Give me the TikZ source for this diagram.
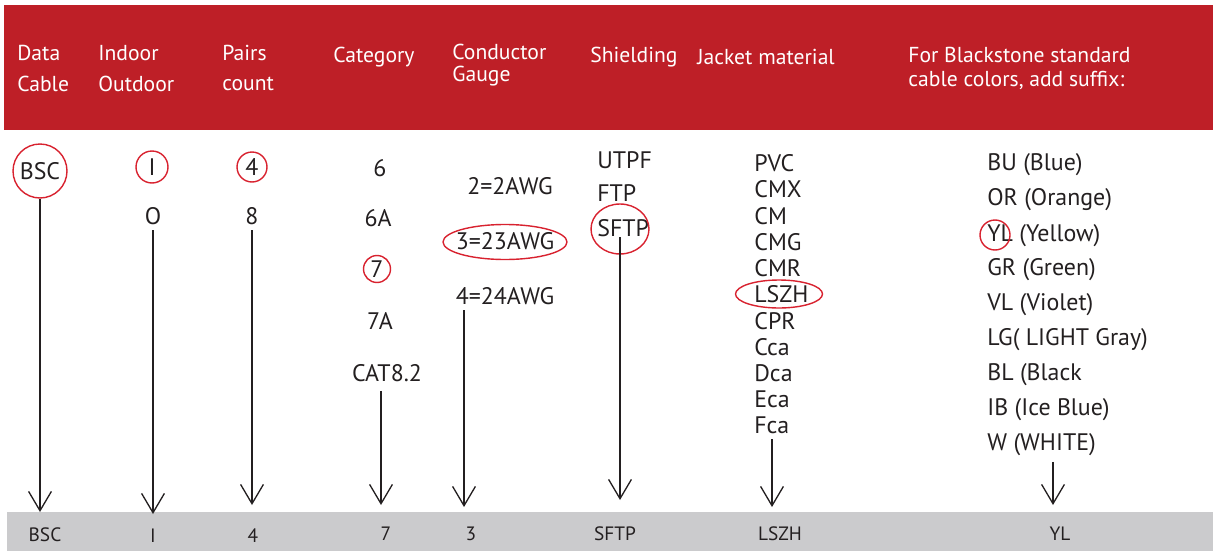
\documentclass[tikz,border=0pt]{standalone}
\usepackage{fontspec}
\setmainfont{PT Sans}
\usetikzlibrary{arrows.meta}
\definecolor{bandred}{HTML}{BE1F27}
\definecolor{bandgrey}{HTML}{CBCBCD}
\definecolor{ringred}{HTML}{D8222F}
\definecolor{ink}{HTML}{231F20}

\begin{document}
\begin{tikzpicture}[x=.02cm, y=-.02cm,
    head/.style={anchor=west, inner sep=0, text=white, font=\fontsize{12.3}{14}\selectfont},
    item/.style={anchor=west, inner sep=0, text=ink, font=\fontsize{13.6}{15}\selectfont},
    mid/.style={item, anchor=center},
    code/.style={inner sep=0, text=ink, font=\fontsize{11}{13}\selectfont},
    ring/.style={draw=ringred, line width=.8pt},
    arr/.style={draw=ink, line width=.75pt, shorten <=3pt,
      -{Straight Barb[length=11pt, width=13pt, line width=.75pt]}}]
  \useasboundingbox (0,0) rectangle (1213,551);
  \fill[bandred] (4,5) rectangle (1213,130);
  \fill[bandgrey] (7,512) rectangle (1213,551);

  % header
  \node[head] (hdata)   at (17,53)  {Data};
  \node[head] (hcable)  at (17,84)  {Cable};
  \node[head] (hin)     at (98,53)  {Indoor};
  \node[head] (hout)    at (98,84)  {Outdoor};
  \node[head] (hpairs)  at (222,53) {Pairs};
  \node[head] (hcount)  at (222,84) {count};
  \node[head] (hcat)    at (333,57) {Category};
  \node[head] (hcond)   at (452,52) {Conductor};
  \node[head] (hgauge)  at (452,76) {Gauge};
  \node[head] (hshield) at (590,57) {Shielding};
  \node[head] (hjacket) at (697,57) {Jacket material};
  \node[head] (hcol1)   at (908,55) {For Blackstone standard};
  \node[head] (hcol2)   at (908,80) {cable colors, add suffix:};

  % options
  \node[mid, circle, ring, minimum size=1.08cm] (bsc) at (40,171) {BSC};
  \node[mid] (optI) at (152,167) {I};
  \node[mid] (optO) at (153,216) {O};
  \node[mid] (pr4) at (252,167) {4};
  \node[mid] (pr8) at (252,216) {8};
  \node[mid] (cat6)  at (380,168) {6};
  \node[mid] (cat6a) at (378,218) {6A};
  \node[mid] (cat7)  at (377,269) {7};
  \node[mid] (cat7a) at (380,321) {7A};
  \node[mid] (cat82) at (387,373) {CAT8.2};
  \node[mid] (g2) at (510,186) {2=2AWG};
  \node[mid] (g3) at (505,241) {3=23AWG};
  \node[mid] (g4) at (505,296) {4=24AWG};
  \node[item] (utpf) at (597,160) {UTPF};
  \node[item] (ftp)  at (597,193) {FTP};
  \node[item] (sftp) at (597,228) {SFTP};
  \foreach \name/\txt/\y in {pvc/PVC/163, cmx/CMX/189, cm/CM/216, cmg/CMG/242,
      cmr/CMR/268, lszh/LSZH/294, cpr/CPR/321, cca/Cca/347, dca/Dca/373,
      eca/Eca/399, fca/Fca/425}
    \node[item] (\name) at (754,\y) {\txt};
  \foreach \name/\txt/\y in {bu/BU (Blue)/165, or/OR (Orange)/200, yl/YL (Yellow)/236,
      gr/GR (Green)/270, vl/VL (Violet)/305, lg/LG( LIGHT Gray)/340,
      bl/BL (Black/375, ib/IB (Ice Blue)/410, wh/W (WHITE)/445}
    \node[item] (\name) at (987,\y) {\txt};

  % chosen ones
  \draw[ring] (optI) ellipse (.32cm and .32cm);
  \draw[ring] (pr4) ellipse (.3cm and .3cm);
  \draw[ring] (cat7) ellipse (.27cm and .27cm);
  \draw[ring] (505,242) ellipse (1.24cm and .35cm);
  \draw[ring] (620,229) ellipse (.58cm and .5cm);
  \draw[ring] (779,294) ellipse (.87cm and .28cm);
  \draw[ring] (995,235) ellipse (.3cm and .3cm);

  % result
  \node[code] (rbsc)  at (45,535)   {BSC};
  \node[code] (ri)    at (153,536)  {I};
  \node[code] (r4)    at (253,536)  {4};
  \node[code] (r7)    at (386,534)  {7};
  \node[code] (r3)    at (471,534)  {3};
  \node[code] (rsftp) at (615,534)  {SFTP};
  \node[code] (rlszh) at (780,534)  {LSZH};
  \node[code] (ryl)   at (1060,534) {YL};

  \coordinate (tbsc)  at (40,512);
  \coordinate (ti)    at (153,514);
  \coordinate (t4)    at (252,505);
  \coordinate (t7)    at (381,505);
  \coordinate (t3)    at (464,507);
  \coordinate (tsftp) at (620,500);
  \coordinate (tlszh) at (772,507);
  \coordinate (tyl)   at (1053,505);

  \draw[arr, shorten <=0pt] (bsc.south) -- (tbsc);
  \draw[arr] (optO.south -| ti) -- (ti);
  \draw[arr] (pr8.south -| t4) -- (t4);
  \draw[arr, shorten <=5pt] (cat82.south -| t7) -- (t7);
  \draw[arr] (g4.south -| t3) -- (t3);
  \draw[arr, shorten <=0pt] (sftp.south -| tsftp) -- (tsftp);
  \draw[arr] (fca.south -| tlszh) -- (tlszh);
  \draw[arr] (wh.south -| tyl) -- (tyl);
\end{tikzpicture}
\end{document}
